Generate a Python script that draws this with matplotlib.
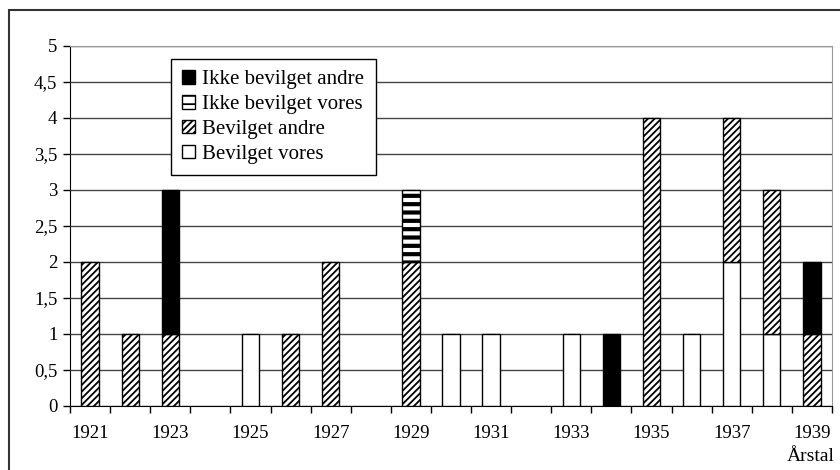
import matplotlib
matplotlib.use('Agg')
import matplotlib.pyplot as plt
from matplotlib.patches import Rectangle
import numpy as np

plt.rcParams['font.family'] = ['Liberation Serif', 'DejaVu Serif']

years = list(range(1921, 1940))
bev_vores = [0, 0, 0, 0, 1, 0, 0, 0, 0, 1, 1, 0, 1, 0, 0, 1, 2, 1, 0]
bev_andre = [2, 1, 1, 0, 0, 1, 2, 0, 2, 0, 0, 0, 0, 0, 4, 0, 2, 2, 1]
ikke_vores = [0, 0, 0, 0, 0, 0, 0, 0, 1, 0, 0, 0, 0, 0, 0, 0, 0, 0, 0]
ikke_andre = [0, 0, 2, 0, 0, 0, 0, 0, 0, 0, 0, 0, 0, 1, 0, 0, 0, 0, 1]
yticks = [0, 0.5, 1, 1.5, 2, 2.5, 3, 3.5, 4, 4.5, 5]
ylabels = ['0', '0,5', '1', '1,5', '2', '2,5', '3', '3,5', '4', '4,5', '5']

fig = plt.figure(figsize=(8.4, 4.7), dpi=100)
ax = fig.add_axes([70/840, 1-406/470, (832-70)/840, (406-46)/470])

x = np.arange(len(years))
w = 0.43
v1 = np.array(bev_vores)
v2 = np.array(bev_andre)
v3 = np.array(ikke_vores)
v4 = np.array(ikke_andre)
b2 = v1
b3 = v1 + v2
b4 = b3 + v3


def stack(vals, bottom, **kw):
    m = vals > 0
    return ax.bar(x[m], vals[m], w, bottom=bottom[m], edgecolor='black',
                  linewidth=1, zorder=3, **kw)


plt.rcParams['hatch.linewidth'] = 1.3
h1 = stack(v1, np.zeros_like(v1), color='white')
h2 = stack(v2, b2, color='white', hatch='/////')
plt.rcParams['hatch.linewidth'] = 3.0
h3 = stack(v3, b3, color='white', hatch='--')
plt.rcParams['hatch.linewidth'] = 1.3
h4 = stack(v4, b4, color='black')

ax.set_xlim(-0.5, len(years) - 0.5)
ax.set_ylim(0, 5)
ax.set_yticks(yticks)
ax.set_yticklabels(ylabels)
ax.set_xticks(np.arange(-0.5, len(years)))
ax.set_xticklabels([])
ax.set_xticks(x[::2], minor=True)
ax.set_xticklabels([str(y) for y in years[::2]], minor=True)
ax.tick_params(axis='x', which='major', direction='out', length=5, width=1)
ax.tick_params(axis='x', which='minor', length=0, pad=14, labelsize=13.5)
ax.tick_params(axis='y', direction='out', length=5, width=1, labelsize=13.5, pad=4)

ax.grid(axis='y', color='#444444', linewidth=1, zorder=0)
ax.set_axisbelow(True)
for s in ['top', 'right']:
    ax.spines[s].set_color('#999999')
for s in ['left', 'bottom']:
    ax.spines[s].set_color('black')

ax.text(1.004, -0.118, 'Årstal', transform=ax.transAxes, ha='right', va='top', fontsize=14)

leg = ax.legend([h4, h3, h2, h1],
                ['Ikke bevilget andre', 'Ikke bevilget vores', 'Bevilget andre', 'Bevilget vores'],
                loc='upper left', bbox_to_anchor=((171-70)/762, 1-(59-46)/360),
                fancybox=False, edgecolor='black', framealpha=1, fontsize=15,
                handlelength=0.6, handleheight=0.6, handletextpad=0.35,
                labelspacing=0.28, borderpad=0.55, borderaxespad=0)
leg.get_frame().set_linewidth(1)

fig.patches.append(Rectangle((9/840, -0.1), 1.2, 1 - 10/470 + 0.1,
                             transform=fig.transFigure, fill=False,
                             edgecolor='#333333', linewidth=1.5))

fig.savefig('out.png', dpi=100)
